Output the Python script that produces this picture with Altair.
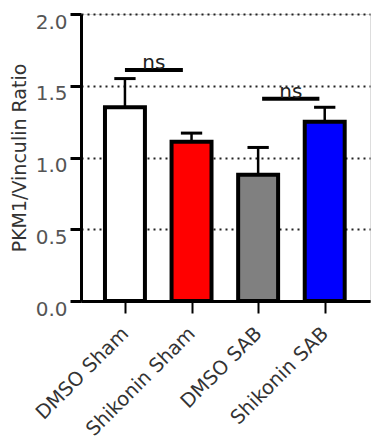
import altair as alt
import pandas as pd

categories = ["DMSO Sham", "Shikonin Sham", "DMSO SAB", "Shikonin SAB"]
means = [1.35, 1.11, 0.88, 1.25]
sems = [0.20, 0.06, 0.19, 0.10]
colors = ["#FFFFFF", "#FF0000", "#808080", "#0000FF"]

ns_x1 = [0.0, 2.06]
ns_x2 = [0.87, 2.92]
ns_y = [1.61, 1.41]
ns_label = ["ns", "ns"]

df = pd.DataFrame({
    "pos": list(range(len(categories))),
    "cat": categories,
    "mean": means,
    "upper": [m + s for m, s in zip(means, sems)],
    "color": colors,
})
ns_df = pd.DataFrame({"x1": ns_x1, "x2": ns_x2, "y": ns_y, "label": ns_label})
ns_df["xm"] = (ns_df["x1"] + ns_df["x2"]) / 2

label_expr = "[" + ",".join(f"'{c}'" for c in categories) + "][datum.value]"

xscale = alt.Scale(domain=[-0.66, 3.68], nice=False, zero=False)
yscale = alt.Scale(domain=[0, 2.0], nice=False)

base = alt.Chart(df)

bars = base.transform_calculate(
    xl="datum.pos - 0.3", xr="datum.pos + 0.3"
).mark_bar(stroke="black", strokeWidth=4).encode(
    x=alt.X("xl:Q", scale=xscale, axis=alt.Axis(
        values=[0, 1, 2, 3], labelExpr=label_expr, title=None, grid=False,
        labelAngle=-45, labelAlign="right", labelBaseline="middle",
        labelOverlap=False, labelBound=False,
        labelFont="DejaVu Sans", labelFontSize=19.5, labelColor="#333333",
        tickSize=12, tickWidth=2, tickColor="black", labelPadding=17,
        domainColor="black", domainWidth=3)),
    x2="xr:Q",
    y=alt.Y("mean:Q", scale=yscale, axis=alt.Axis(
        values=[0, 0.5, 1.0, 1.5, 2.0], format=".1f",
        title="PKM1/Vinculin Ratio", titleFont="DejaVu Sans", titleFontSize=19,
        titleFontWeight="normal", titleColor="#333333", titlePadding=6,
        labelFont="DejaVu Sans", labelFontSize=20, labelColor="#555555",
        labelBaseline="alphabetic", labelOffset=14, labelPadding=3,
        tickSize=11, tickWidth=3, tickColor="black",
        domainColor="black", domainWidth=3,
        grid=True, gridColor="#222222", gridWidth=2, gridDash=[2, 4])),
    y2=alt.datum(0),
    fill=alt.Color("color:N", scale=None),
)

stems = base.mark_rule(color="black", strokeWidth=2.5).encode(
    x=alt.X("pos:Q", scale=xscale),
    y=alt.Y("mean:Q", scale=yscale),
    y2="upper:Q",
)

caps = base.transform_calculate(
    cl="datum.pos - 0.16", cr="datum.pos + 0.16"
).mark_rule(color="black", strokeWidth=3).encode(
    x=alt.X("cl:Q", scale=xscale),
    x2="cr:Q",
    y=alt.Y("upper:Q", scale=yscale),
)

ns_lines = alt.Chart(ns_df).mark_rule(color="black", strokeWidth=4).encode(
    x=alt.X("x1:Q", scale=xscale),
    x2="x2:Q",
    y=alt.Y("y:Q", scale=yscale),
)

ns_text = alt.Chart(ns_df).mark_text(
    font="DejaVu Sans", fontSize=20, color="#222222", baseline="alphabetic", dy=-1
).encode(
    x=alt.X("xm:Q", scale=xscale),
    y=alt.Y("y:Q", scale=yscale),
    text="label:N",
)

chart = alt.layer(bars, stems, caps, ns_lines, ns_text).properties(
    width=289, height=287,
    autosize=alt.AutoSizeParams(type="none"),
    padding={"left": 73, "top": 6, "right": 6, "bottom": 146},
).configure_view(fill="#FFFDE1", stroke=None).configure(background="white")

chart.save("out.html", embed_options={"renderer": "svg", "actions": False})
